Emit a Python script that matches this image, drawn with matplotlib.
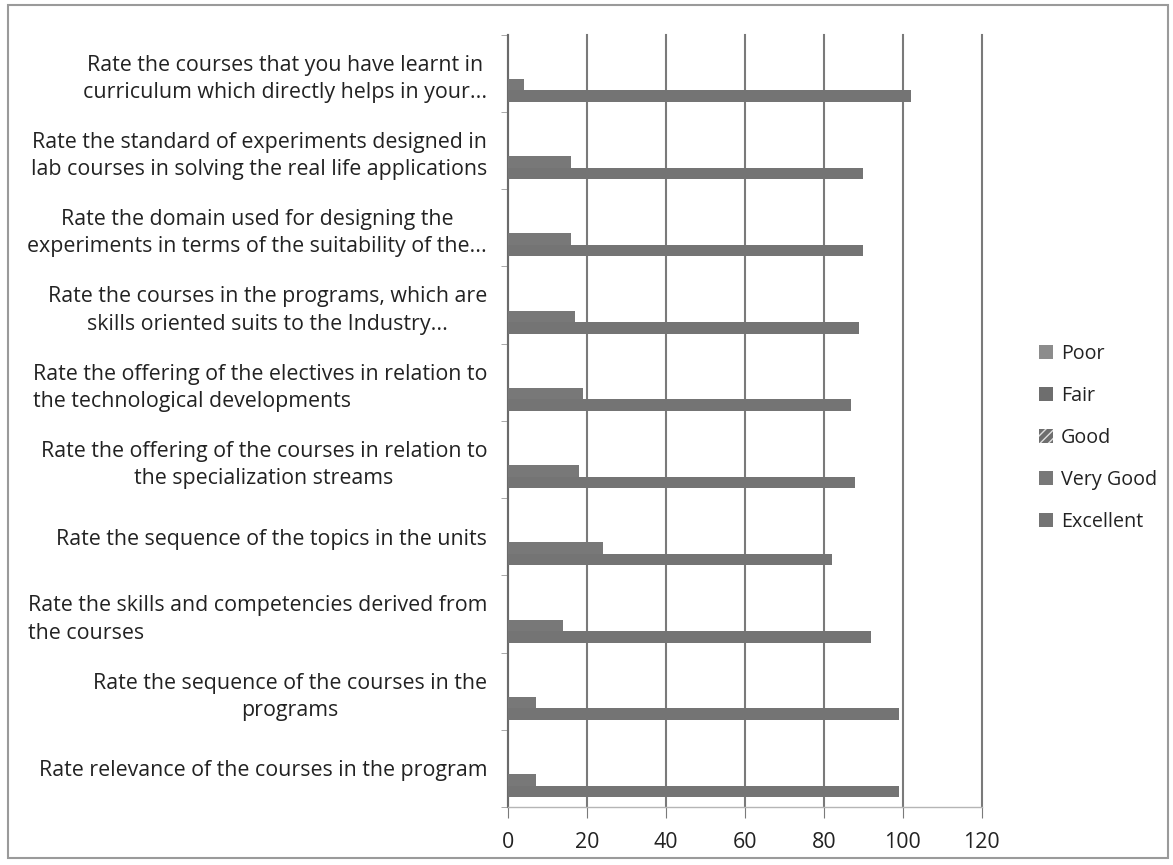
from matplotlib import pyplot as plt
from matplotlib.patches import Rectangle, Patch
import numpy as np

# categories, bottom to top as drawn
categories = [
    "Rate relevance of the courses in the program",
    "Rate the sequence of the courses in the\nprograms",
    "Rate the skills and competencies derived from\nthe courses",
    "Rate the sequence of the topics in the units",
    "Rate the offering of the courses in relation to\nthe specialization streams",
    "Rate the offering of the electives in relation to\nthe technological developments",
    "Rate the courses in the programs, which are\nskills oriented suits to the Industry...",
    "Rate the domain used for designing the\nexperiments in terms of the suitability of the...",
    "Rate the standard of experiments designed in\nlab courses in solving the real life applications",
    "Rate the courses that you have learnt in\ncurriculum which directly helps in your...",
]
label_align = ['center', 'center', 'left', 'center', 'center',
               'left', 'center', 'center', 'center', 'center']

series = ['Poor', 'Fair', 'Good', 'Very Good', 'Excellent']
poor = [0, 0, 0, 0, 0, 0, 0, 0, 0, 0]
fair = [0, 0, 0, 0, 0, 0, 0, 0, 0, 0]
good = [0, 0, 0, 0, 0, 0, 0, 0, 0, 0]
very_good = [7, 7, 14, 24, 18, 19, 17, 16, 16, 4]
excellent = [99, 99, 92, 82, 88, 87, 89, 90, 90, 102]
values = [poor, fair, good, very_good, excellent]

colors = ['#8c8c8c', '#6e6e6e', '#6e6e6e', '#787878', '#747474']
hatches = [None, None, '////', None, None]

plt.rcParams['font.family'] = ['Open Sans', 'DejaVu Sans']
fs = 15.4
fig = plt.figure(figsize=(11.73, 8.65), dpi=100)
ax = fig.add_axes([0.433, 0.067, 0.404, 0.893])

y = np.arange(len(categories))
w = 0.149
for k, name in enumerate(series):
    ax.barh(y + (2 - k) * w, values[k], height=w, color=colors[k],
            hatch=hatches[k], edgecolor='none', label=name, zorder=3)

ax.set_xlim(0, 120)
ax.set_ylim(-0.5, len(categories) - 0.5)
ax.set_xticks(np.arange(0, 121, 20))
ax.grid(axis='x', color='#7a7a7a', lw=1.5, zorder=1)
ax.set_axisbelow(True)
for gl in ax.get_xgridlines():
    gl.set_clip_on(False)

ax.set_yticks(y)
ax.set_yticklabels(categories, fontsize=fs, color='#222222', linespacing=1.38)
for lab, al in zip(ax.get_yticklabels(), label_align):
    lab.set_multialignment(al)
ax.set_yticks(np.arange(-0.5, len(categories)), minor=True)
ax.tick_params(axis='y', which='major', length=0, pad=15)
ax.tick_params(axis='y', which='minor', length=5, color='#9a9a9a', direction='out')
ax.tick_params(axis='x', length=8, color='#7a7a7a', labelsize=fs,
               labelcolor='#222222', pad=10)

for s in ['top', 'right']:
    ax.spines[s].set_visible(False)
ax.spines['left'].set_color('#6a6a6a')
ax.spines['left'].set_linewidth(1.5)
ax.spines['bottom'].set_color('#b5b5b5')
ax.spines['bottom'].set_linewidth(1)

handles = [Patch(facecolor=colors[k], hatch=hatches[k], edgecolor='none' if hatches[k] is None else '#e0e0e0', lw=0)
           for k in range(len(series))]
fig.legend(handles, series, loc='center left', bbox_to_anchor=(0.871, 0.494),
           frameon=False, fontsize=14.2, handlelength=0.7, handleheight=0.7,
           handletextpad=0.4, labelspacing=1.12, labelcolor='#222222')

fig.patches.append(Rectangle((0.007, 0.008), 0.989, 0.986, transform=fig.transFigure,
                             fill=False, edgecolor='#9a9a9a', lw=1.5))

plt.savefig('out.png', dpi=100)
